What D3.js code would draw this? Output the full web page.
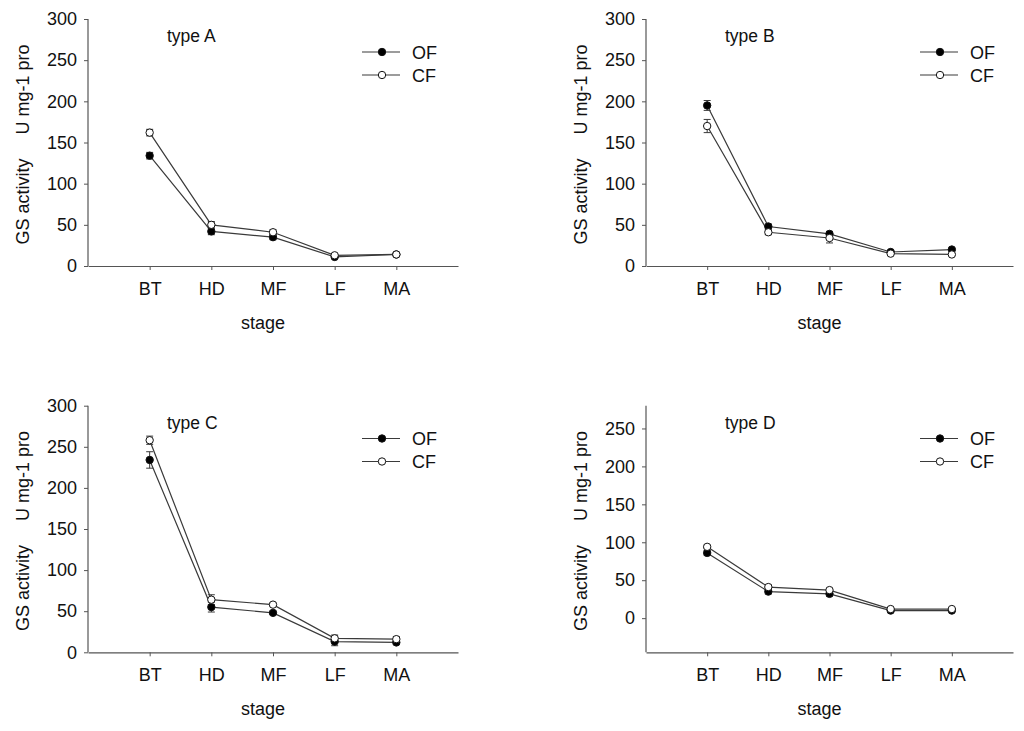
<!DOCTYPE html>
<html><head><meta charset="utf-8">
<script src="https://cdn.jsdelivr.net/npm/d3@7"></script>
<style>
body{margin:0;background:#fff;}
text{font-family:"Liberation Sans",Arial,sans-serif;fill:#111;}
</style></head>
<body>
<svg id="c" width="1024" height="731"></svg>
<script>
const stages = ["BT","HD","MF","LF","MA"];
const seriesNames = ["OF","CF"];
const panelTitles = ["type A","type B","type C","type D"];
// values [panel][stage]
const ofValues = [
  [134, 42, 35, 11, 14],
  [195, 48, 39, 17, 20],
  [234, 55, 48, 13, 12],
  [86, 35, 32, 10, 10]
];
const ofErrors = [
  [4, 4, 3, 1, 1],
  [6, 3, 3, 2, 1],
  [10, 6, 2, 5, 2],
  [3, 3, 3, 1, 1]
];
const cfValues = [
  [162, 50, 41, 13, 14],
  [170, 41, 34, 15, 14],
  [258, 64, 58, 17, 16],
  [94, 41, 37, 12, 12]
];
const cfErrors = [
  [4, 4, 3, 1, 1],
  [8, 3, 6, 1, 1],
  [5, 6, 2, 4, 3],
  [2, 3, 2, 1, 1]
];
const yDomains = [[0,300],[0,300],[0,300],[-45,280]];
const yTickValues = [
  [0,50,100,150,200,250,300],
  [0,50,100,150,200,250,300],
  [0,50,100,150,200,250,300],
  [0,50,100,150,200,250]
];
const xLabel = "stage";

const svg = d3.select("#c");
const panels = [
  {x0:88, x1:458, y0:19, y1:266, ox:0, oy:0},
  {x0:646, x1:1013, y0:19, y1:266, ox:558, oy:0},
  {x0:88, x1:458, y0:405.7, y1:652.3, ox:0, oy:386.5},
  {x0:646, x1:1013, y0:405.7, y1:652.3, ox:558, oy:386.5}
];
const lineCol = "#3a3a3a";
const FF = '"Liberation Sans",Arial,sans-serif';

panels.forEach((p, i) => {
  const g = svg.append("g");
  const x = d3.scaleLinear().domain([-1, 5]).range([p.x0, p.x1]);
  const y = d3.scaleLinear().domain(yDomains[i]).range([p.y1, p.y0]);

  const yAxis = d3.axisLeft(y).tickValues(yTickValues[i]).tickSize(4).tickPadding(7).tickSizeOuter(0);
  const ya = g.append("g").attr("transform", `translate(${p.x0},0)`).call(yAxis);
  const xAxis = d3.axisBottom(x).tickValues(d3.range(stages.length)).tickFormat(d => stages[d]).tickSize(4).tickPadding(12).tickSizeOuter(0);
  const xa = g.append("g").attr("transform", `translate(0,${p.y1})`).call(xAxis);
  [ya, xa].forEach(a => {
    a.select(".domain").attr("stroke", "#555").attr("stroke-width", 1.2);
    a.selectAll(".tick line").attr("stroke", "#555").attr("stroke-width", 1);
    a.selectAll(".tick text").attr("font-size", 18).attr("fill", "#111").style("font-family", FF);
  });
  ya.select(".domain").attr("d", `M0,${p.y0}V${p.y1}`);

  g.append("text").attr("x", (p.x0 + p.x1) / 2 - 10).attr("y", p.y1 + 63)
    .attr("text-anchor", "middle").attr("font-size", 18).text(xLabel);
  const yl = g.append("text")
    .attr("transform", `translate(${p.x0 - 59},${(p.y0 + p.y1) / 2 + 2}) rotate(-90)`)
    .attr("text-anchor", "middle").attr("font-size", 18);
  yl.append("tspan").text("GS activity");
  yl.append("tspan").attr("dx", 24).text("U mg-1 pro");

  g.append("text").attr("x", p.x0 + 79).attr("y", p.y0 + 23)
    .attr("font-size", 17.5).text(panelTitles[i]);

  const data = [ofValues[i], cfValues[i]];
  const errs = [ofErrors[i], cfErrors[i]];
  const line = d3.line().x((d, k) => x(k)).y(d => y(d));

  data.forEach(vals => {
    g.append("path").attr("d", line(vals)).attr("fill", "none")
      .attr("stroke", lineCol).attr("stroke-width", 1.2);
  });
  data.forEach((vals, s) => {
    vals.forEach((v, k) => {
      const e = errs[s][k];
      const cx = x(k);
      const eg = g.append("g").attr("stroke", lineCol).attr("stroke-width", 1);
      eg.append("line").attr("x1", cx).attr("x2", cx).attr("y1", y(v - e)).attr("y2", y(v + e));
      [v - e, v + e].forEach(t => eg.append("line").attr("x1", cx - 3.5).attr("x2", cx + 3.5).attr("y1", y(t)).attr("y2", y(t)));
    });
  });
  data.forEach((vals, s) => {
    g.selectAll(null).data(vals).enter().append("circle")
      .attr("cx", (d, k) => x(k)).attr("cy", d => y(d)).attr("r", 3.7)
      .attr("fill", s === 0 ? "#000" : "#fff").attr("stroke", "#111").attr("stroke-width", 1);
  });

  seriesNames.forEach((name, s) => {
    const ly = p.oy + 52 + s * 23;
    const lx0 = p.ox + 362;
    g.append("line").attr("x1", lx0).attr("x2", lx0 + 38).attr("y1", ly).attr("y2", ly)
      .attr("stroke", lineCol).attr("stroke-width", 1.2);
    g.append("circle").attr("cx", lx0 + 20).attr("cy", ly).attr("r", 3.7)
      .attr("fill", s === 0 ? "#000" : "#fff").attr("stroke", "#111").attr("stroke-width", 1);
    g.append("text").attr("x", lx0 + 50).attr("y", ly + 6.5).attr("font-size", 18).text(name);
  });
});
</script>
</body></html>
